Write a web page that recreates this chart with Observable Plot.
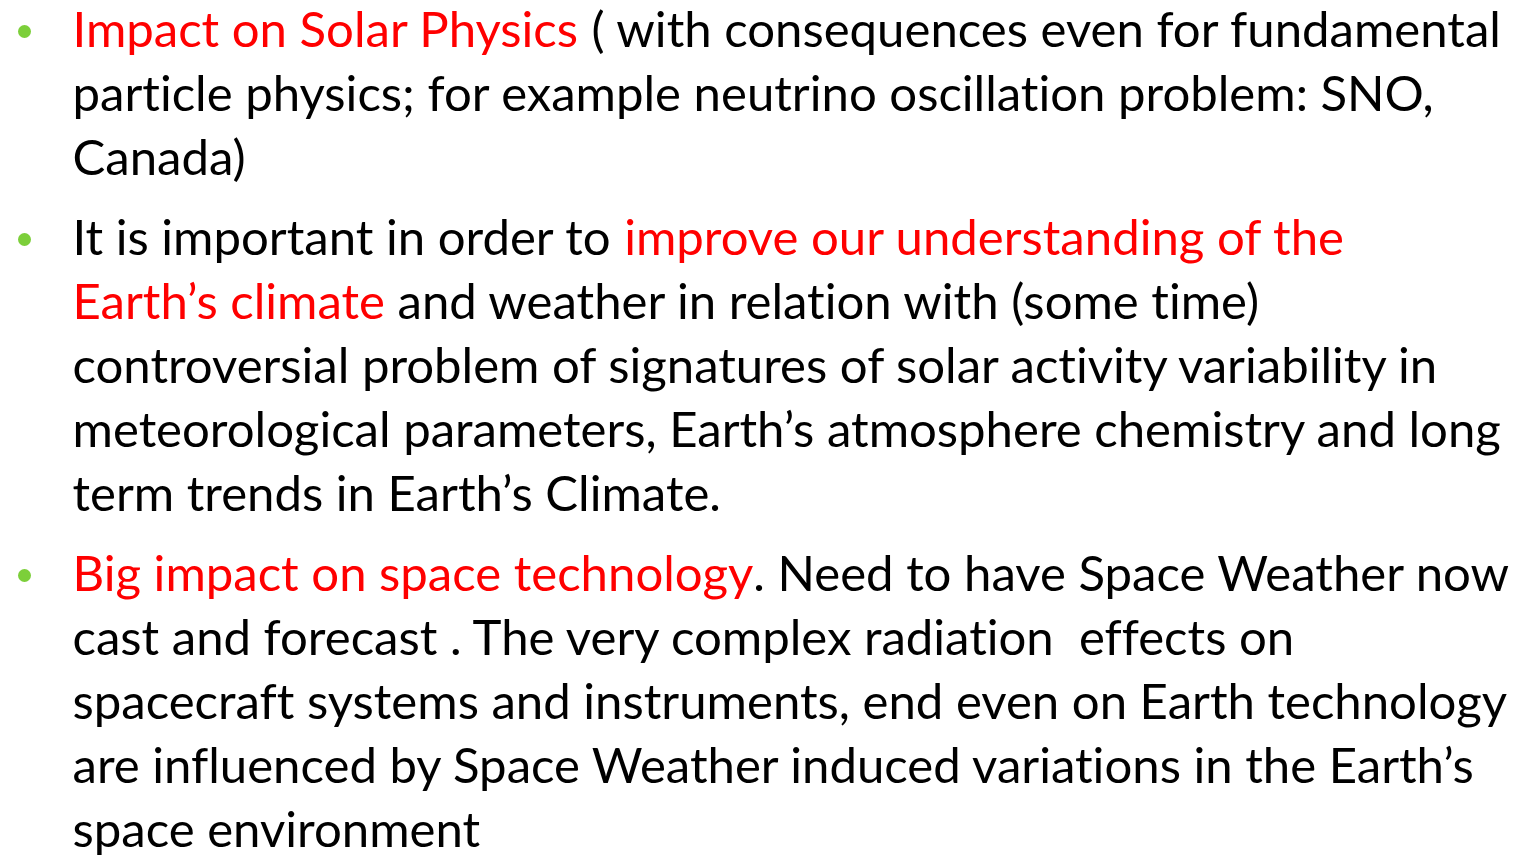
<!DOCTYPE html>
<html><head><meta charset="utf-8">
<script src="https://cdn.jsdelivr.net/npm/d3@7"></script>
<script src="https://cdn.jsdelivr.net/npm/@observablehq/plot@0.6"></script>
<style>html,body{margin:0;padding:0;background:#fff;overflow:hidden}
svg text{font-variant-ligatures:none;font-feature-settings:"liga" 0}</style>
</head><body><div id="chart"></div>
<script>
// Paragraphs: each line is a list of [text, emphasis] segments (emphasis true = red)
const paragraph1 = [
  [["Impact on Solar Physics", true], [" ( with consequences even for fundamental", false]],
  [["particle physics; for example neutrino oscillation problem: SNO,", false]],
  [["Canada)", false]]
];
const paragraph2 = [
  [["It is important in order to ", false], ["improve our understanding of the", true]],
  [["Earth’s climate", true], [" and weather in relation with (some time)", false]],
  [["controversial problem of signatures of solar activity variability in", false]],
  [["meteorological parameters, Earth’s atmosphere chemistry and long", false]],
  [["term trends in Earth’s Climate.", false]]
];
const paragraph3 = [
  [["Big impact on space technology", true], [". Need to have Space Weather now", false]],
  [["cast and forecast . The very complex radiation  effects on", false]],
  [["spacecraft systems and instruments, end even on Earth technology", false]],
  [["are influenced by Space Weather induced variations in the Earth’s", false]],
  [["space environment", false]]
];
const paragraphs = [paragraph1, paragraph2, paragraph3];

(function () {
const W = 1530, H = 855;
const fontFamily = "Lato";
const ctx = document.createElement("canvas").getContext("2d");
function measure(t, size) {
  ctx.font = `${size}px ${fontFamily}`;
  if ("fontVariantLigatures" in ctx) ctx.fontVariantLigatures = "none";
  return ctx.measureText(t).width;
}
const firstLine = paragraph1[0].map(s => s[0]).join("");
const fontSize = Math.round(1430 / measure(firstLine, 100) * 100 * 10) / 10;

const textLeft = 72, lineGap = 64, paraGap = 80, firstY = 31;
const segs = [], bullets = [];
let y = firstY;
paragraphs.forEach((p, pi) => {
  if (pi > 0) y += paraGap - lineGap;
  bullets.push({x: 24, y});
  p.forEach(line => {
    let x = textLeft;
    line.forEach(([t, red]) => {
      segs.push({x, y, text: t, color: red ? "#ff0000" : "#000000"});
      x += measure(t, fontSize);
    });
    y += lineGap;
  });
});

const chart = Plot.plot({
  width: W, height: H, margin: 0,
  x: {domain: [0, W], range: [0, W], axis: null},
  y: {domain: [0, H], range: [0, H], axis: null},
  style: {background: "#fff"},
  marks: [
    Plot.dot(bullets, {x: "x", y: "y", r: 6.5, fill: "#7ccf3a"}),
    Plot.text(segs, {x: "x", y: "y", text: "text", fill: "color", textAnchor: "start",
      lineAnchor: "middle", fontSize, fontFamily})
  ]
});
chart.querySelectorAll("text").forEach(t => t.setAttribute("xml:space", "preserve"));
chart.style.whiteSpace = "pre";
document.getElementById("chart").appendChild(chart);
})();
</script></body></html>
